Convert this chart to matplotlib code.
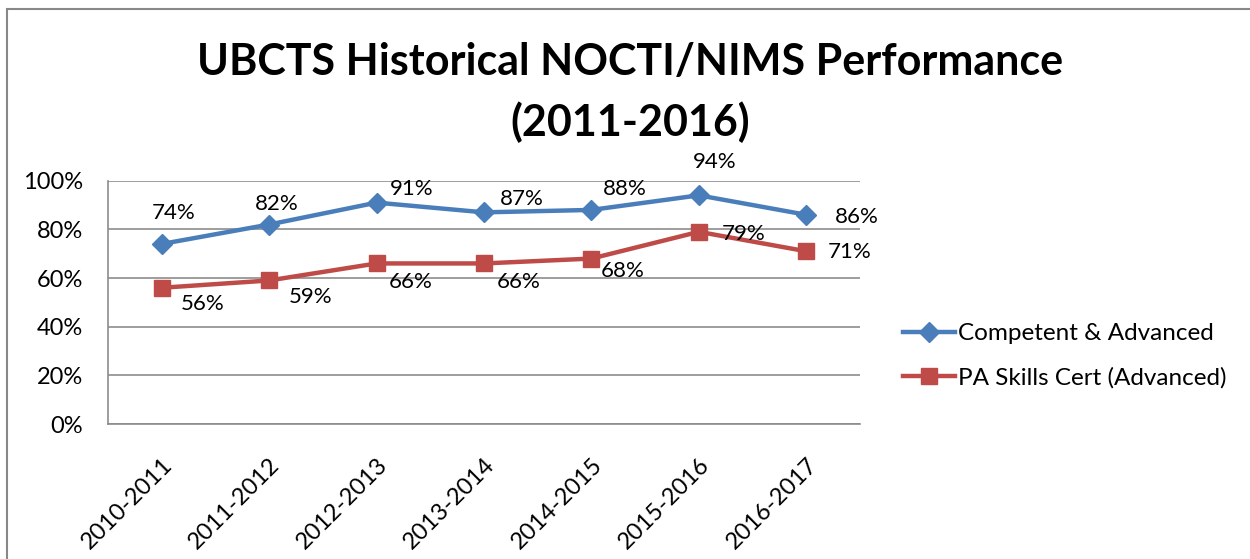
import matplotlib
matplotlib.use("Agg")
import matplotlib.pyplot as plt
from matplotlib.patches import Rectangle
from matplotlib.lines import Line2D

years = ["2010-2011", "2011-2012", "2012-2013", "2013-2014",
         "2014-2015", "2015-2016", "2016-2017"]
competent = [74, 82, 91, 87, 88, 94, 86]
pa_skills = [56, 59, 66, 66, 68, 79, 71]

# label offsets in pixels (dx, dy)
blue_offsets = [(12, 31), (8, 21), (35, 14), (38, 13), (33, 21), (16, 33), (51, -2)]
red_offsets = [(41, -16), (41, -17), (34, -19), (35, -19), (31, -12), (45, -2), (43, -1)]

BLUE = "#4A7EBB"
RED = "#BE4B48"
GRID = "#8C8C8C"

plt.rcParams["font.family"] = ["Lato", "DejaVu Sans"]

fig = plt.figure(figsize=(12.5, 5.59), dpi=100)
ax = fig.add_axes([0.0864, 0.2415, 0.6016, 0.4352])

x = list(range(len(years)))
ax.plot(x, competent, color=BLUE, lw=3.2, marker="D", ms=10, zorder=3)
ax.plot(x, pa_skills, color=RED, lw=3.2, marker="s", ms=12, zorder=3)

for i, v in enumerate(competent):
    ax.annotate(f"{v}%", (i, v), xytext=blue_offsets[i], textcoords="offset pixels",
                ha="center", va="center", fontsize=16)
for i, v in enumerate(pa_skills):
    ax.annotate(f"{v}%", (i, v), xytext=red_offsets[i], textcoords="offset pixels",
                ha="center", va="center", fontsize=16)

ax.set_xlim(-0.5, len(years) - 0.5)
ax.set_ylim(0, 100)
ax.set_yticks([0, 20, 40, 60, 80, 100])
ax.set_yticklabels([f"{t}%" for t in [0, 20, 40, 60, 80, 100]], fontsize=17)
ax.set_xticks(x)
ax.set_xticklabels(years, rotation=45, ha="right", rotation_mode="anchor", fontsize=17)
ax.tick_params(axis="y", length=0, pad=18)
ax.tick_params(axis="x", length=0, pad=22)
ax.grid(axis="y", color=GRID, lw=1.2)
ax.set_axisbelow(True)
for side in ["top", "right"]:
    ax.spines[side].set_visible(False)
for side in ["left", "bottom"]:
    ax.spines[side].set_color(GRID)
    ax.spines[side].set_linewidth(1.2)

fig.text(0.504, 0.866, "UBCTS Historical NOCTI/NIMS Performance",
         ha="center", va="baseline", fontsize=31, fontweight="bold")
fig.text(0.504, 0.757, "(2011-2016)",
         ha="center", va="baseline", fontsize=31, fontweight="bold")

handles = [
    Line2D([], [], color=BLUE, lw=3.2, marker="D", ms=10),
    Line2D([], [], color=RED, lw=3.2, marker="s", ms=12),
]
fig.legend(handles, ["Competent & Advanced", "PA Skills Cert (Advanced)"],
           loc="center left", bbox_to_anchor=(0.7224, 0.363), frameon=False,
           borderpad=0, borderaxespad=0, fontsize=17.5, handlelength=2.15,
           handletextpad=0.1, labelspacing=0.95)

# chart border
fig.patches.append(Rectangle((0.0056, -0.05), 1.1, 1.034, transform=fig.transFigure,
                             fill=False, edgecolor="#888888", lw=1.5))

fig.savefig("out.png", dpi=100)
